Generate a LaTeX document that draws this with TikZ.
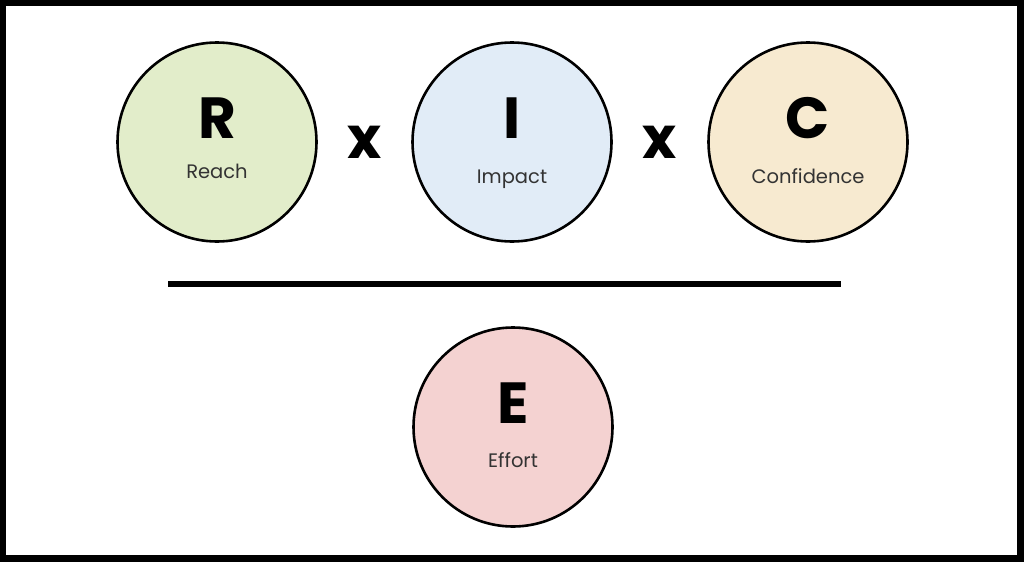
\documentclass[tikz,border=0pt]{standalone}
\usepackage{fontspec}
\setmainfont{Poppins}

\definecolor{reachgreen}{HTML}{E2EDCA}
\definecolor{impactblue}{HTML}{E1ECF7}
\definecolor{confbeige}{HTML}{F7EAD0}
\definecolor{effortpink}{HTML}{F4D2D1}
\definecolor{labelgray}{HTML}{333333}

\tikzset{
  ball/.style={circle, draw=black, line width=2.6pt, minimum size=199pt, inner sep=0pt},
  bigletter/.style={anchor=base, font=\fontsize{58}{58}\selectfont\bfseries},
  smalllabel/.style={anchor=base, text=labelgray, font=\fontsize{19.5}{19.5}\selectfont},
}

\begin{document}
\begin{tikzpicture}[x=1pt,y=-1pt]

    \fill[black] (0,0) rectangle (1024,562);
    \fill[white] (6,6) rectangle (1017,555);

    \node[ball, fill=reachgreen] (reach) at (217,142) {};
    \node[ball, fill=impactblue] (impact) at (512,142) {};
    \node[ball, fill=confbeige] (confid) at (808,142) {};
    \node[ball, fill=effortpink] (effort) at (513,427) {};

    \node[bigletter] (rLetter) at (217,138) {R};
    \node[bigletter] (iLetter) at (512,138) {I};
    \node[bigletter] (cLetter) at (808,138) {C};
    \node[bigletter] (eLetter) at (513,423) {E};

    \node[smalllabel] (rLabel) at (217,178) {Reach};
    \node[smalllabel] (iLabel) at (512,183) {Impact};
    \node[smalllabel] (cLabel) at (808,183) {Confidence};
    \node[smalllabel] (eLabel) at (513,467) {Effort};

    \node[bigletter] (timesA) at (365,158) {x};
    \node[bigletter] (timesB) at (660,158) {x};

    \coordinate (barL) at (168,284);
    \coordinate (barR) at (841,284);
    \draw[line width=6pt] (barL) -- (barR);

\end{tikzpicture}
\end{document}
